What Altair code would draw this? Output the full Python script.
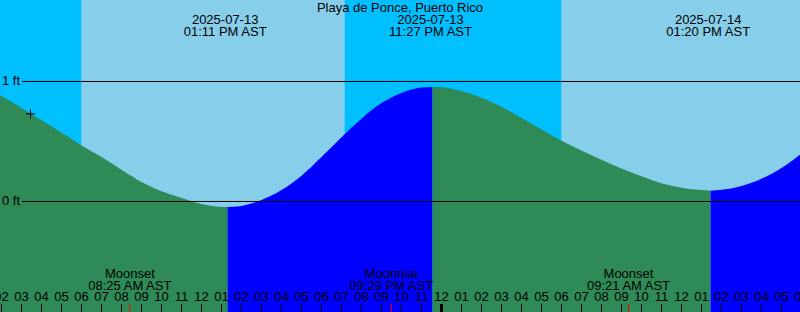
import altair as alt
import pandas as pd

W, H = 800, 312

title_text = "Playa de Ponce, Puerto Rico"

# hours since 2025-07-13 00:00 AST
x_domain = [1.925, 41.925]
y_domain = [-0.921, 1.679]

night_start = [1.925, 19.15]
night_end = [6.0, 30.0]
day_start = [6.0, 30.0]
day_end = [19.15, 41.925]

curve_hours = [1.925, 2, 3, 4, 5, 6, 7, 8, 9, 10, 11, 12, 13, 13.3,
               14, 15, 16, 17, 18, 19, 20, 21, 22, 23, 23.55,
               24, 25, 26, 27, 28, 29, 30, 31, 32, 33, 34, 35, 36, 37, 37.45,
               38, 39, 40, 41, 41.925]
curve_feet = [0.885, 0.878, 0.78, 0.677, 0.572, 0.467, 0.37, 0.265, 0.163, 0.085, 0.03, -0.02, -0.045, -0.047,
              -0.037, 0.012, 0.095, 0.215, 0.37, 0.535, 0.69, 0.82, 0.905, 0.95, 0.955,
              0.952, 0.92, 0.865, 0.79, 0.695, 0.6, 0.506, 0.424, 0.347, 0.275, 0.21, 0.152, 0.115, 0.095, 0.09,
              0.097, 0.13, 0.19, 0.28, 0.39]
turn_hours = [13.3, 23.55, 37.45]  # low, high, low (fill colour changes)

tide_hours = [13.183, 23.45, 37.333]
tide_dates = ["2025-07-13", "2025-07-13", "2025-07-14"]
tide_times = ["01:11 PM AST", "11:27 PM AST", "01:20 PM AST"]

moon_hours = [8.417, 21.483, 33.35]
moon_names = ["Moonset", "Moonrise", "Moonset"]
moon_times = ["08:25 AM AST", "09:29 PM AST", "09:21 AM AST"]

level_feet = [0, 1]
level_labels = ["0 ft", "1 ft"]

tick_hours = list(range(2, 43))
tick_labels = ["02", "03", "04", "05", "06", "07", "08", "09", "10", "11", "12",
               "01", "02", "03", "04", "05", "06", "07", "08", "09", "10", "11", "12",
               "01", "02", "03", "04", "05", "06", "07", "08", "09", "10", "11", "12",
               "01", "02", "03", "04", "05", "06"]
midnight_hours = [24]

now_hour = [3.45]
now_feet = [0.73]

FONT = "Liberation Sans"
FS = 13

xs = alt.Scale(domain=x_domain, nice=False, zero=False)
ys = alt.Scale(domain=y_domain, nice=False, zero=False)
cs = alt.Scale(domain=["night", "day", "ebb", "flood"],
               range=["#00BFFF", "#87CEEB", "#2E8B57", "#0000FF"])

# sky background
sky = pd.DataFrame({
    "s": night_start + day_start,
    "e": night_end + day_end,
    "kind": ["night"] * len(night_start) + ["day"] * len(day_start),
})
sky_layer = alt.Chart(sky).mark_rect().encode(
    x=alt.X("s:Q", scale=xs, axis=None),
    x2="e:Q",
    y=alt.value(0), y2=alt.value(H),
    color=alt.Color("kind:N", scale=cs, legend=None),
)

# tide area split into falling / rising segments
bounds = [curve_hours[0]] + turn_hours + [curve_hours[-1]]
rows = []
for i in range(len(bounds) - 1):
    lo, hi = bounds[i], bounds[i + 1]
    phase = "ebb" if i % 2 == 0 else "flood"
    for h, f in zip(curve_hours, curve_feet):
        if lo <= h <= hi:
            rows.append({"h": h, "ft": f, "base": y_domain[0], "seg": i, "phase": phase})
tide = pd.DataFrame(rows)
tide_layer = alt.Chart(tide).mark_area(interpolate="monotone").encode(
    x=alt.X("h:Q", scale=xs, axis=None),
    y=alt.Y("ft:Q", scale=ys, axis=None, stack=None),
    y2="base:Q",
    detail="seg:N",
    color=alt.Color("phase:N", scale=cs, legend=None),
)

# level lines
lv = pd.DataFrame({"ft": level_feet, "lab": level_labels})
level_lines = alt.Chart(lv).mark_rule(color="black", strokeWidth=1).encode(
    y=alt.Y("ft:Q", scale=ys, axis=None),
    x=alt.value(22), x2=alt.value(W),
)
level_text = alt.Chart(lv).mark_text(align="left", baseline="middle", font=FONT,
                                      fontSize=FS, color="black").encode(
    y=alt.Y("ft:Q", scale=ys, axis=None),
    x=alt.value(2),
    text="lab:N",
)

# current-time marker
nowdf = pd.DataFrame({"h": now_hour, "ft": now_feet})
now_layer = alt.Chart(nowdf).mark_point(shape="M-1,0L1,0M0,-1L0,1", size=81,
                                         stroke="black", strokeWidth=1, filled=False,
                                         opacity=1).encode(
    x=alt.X("h:Q", scale=xs, axis=None),
    y=alt.Y("ft:Q", scale=ys, axis=None),
)

# title
title_layer = alt.Chart(pd.DataFrame({"t": [title_text]})).mark_text(
    font=FONT, fontSize=FS, color="black", align="center", baseline="alphabetic"
).encode(x=alt.value(W / 2), y=alt.value(12), text="t:N")

# tide event labels
tev = pd.DataFrame({"h": tide_hours, "d": tide_dates, "t": tide_times})
tide_d = alt.Chart(tev).mark_text(font=FONT, fontSize=FS, color="black",
                                  align="center", baseline="alphabetic").encode(
    x=alt.X("h:Q", scale=xs, axis=None), y=alt.value(24), text="d:N")
tide_t = alt.Chart(tev).mark_text(font=FONT, fontSize=FS, color="black",
                                  align="center", baseline="alphabetic").encode(
    x=alt.X("h:Q", scale=xs, axis=None), y=alt.value(36), text="t:N")

# moon event labels
mev = pd.DataFrame({"h": moon_hours, "n": moon_names, "t": moon_times})
moon_n = alt.Chart(mev).mark_text(font=FONT, fontSize=FS, color="black",
                                  align="center", baseline="alphabetic").encode(
    x=alt.X("h:Q", scale=xs, axis=None), y=alt.value(278), text="n:N")
moon_t = alt.Chart(mev).mark_text(font=FONT, fontSize=FS, color="black",
                                  align="center", baseline="alphabetic").encode(
    x=alt.X("h:Q", scale=xs, axis=None), y=alt.value(290), text="t:N")
moon_ticks = alt.Chart(mev).mark_rule(color="red", strokeWidth=1).encode(
    x=alt.X("h:Q", scale=xs, axis=None), y=alt.value(304), y2=alt.value(H))

# hour ticks and labels
tk = pd.DataFrame({"h": tick_hours, "lab": tick_labels})
tick_rules = alt.Chart(tk).mark_rule(color="black", strokeWidth=1).encode(
    x=alt.X("h:Q", scale=xs, axis=None), y=alt.value(304), y2=alt.value(H))
tick_text = alt.Chart(tk).mark_text(font=FONT, fontSize=FS, color="black",
                                    align="center", baseline="alphabetic").encode(
    x=alt.X("h:Q", scale=xs, axis=None), y=alt.value(301), text="lab:N")
mid = pd.DataFrame({"h": midnight_hours})
mid_rules = alt.Chart(mid).mark_rule(color="black", strokeWidth=3).encode(
    x=alt.X("h:Q", scale=xs, axis=None), y=alt.value(304), y2=alt.value(H))

chart = alt.layer(
    sky_layer, tide_layer, level_lines, level_text, now_layer, title_layer,
    tide_d, tide_t, moon_n, moon_t, tick_rules, mid_rules, moon_ticks, tick_text,
).properties(
    width=W, height=H, padding=0, autosize=alt.AutoSizeParams(type="none"),
    background="#87CEEB",
).configure_view(stroke=None)

chart.save("out.html", embed_options={"renderer": "svg", "actions": False})
